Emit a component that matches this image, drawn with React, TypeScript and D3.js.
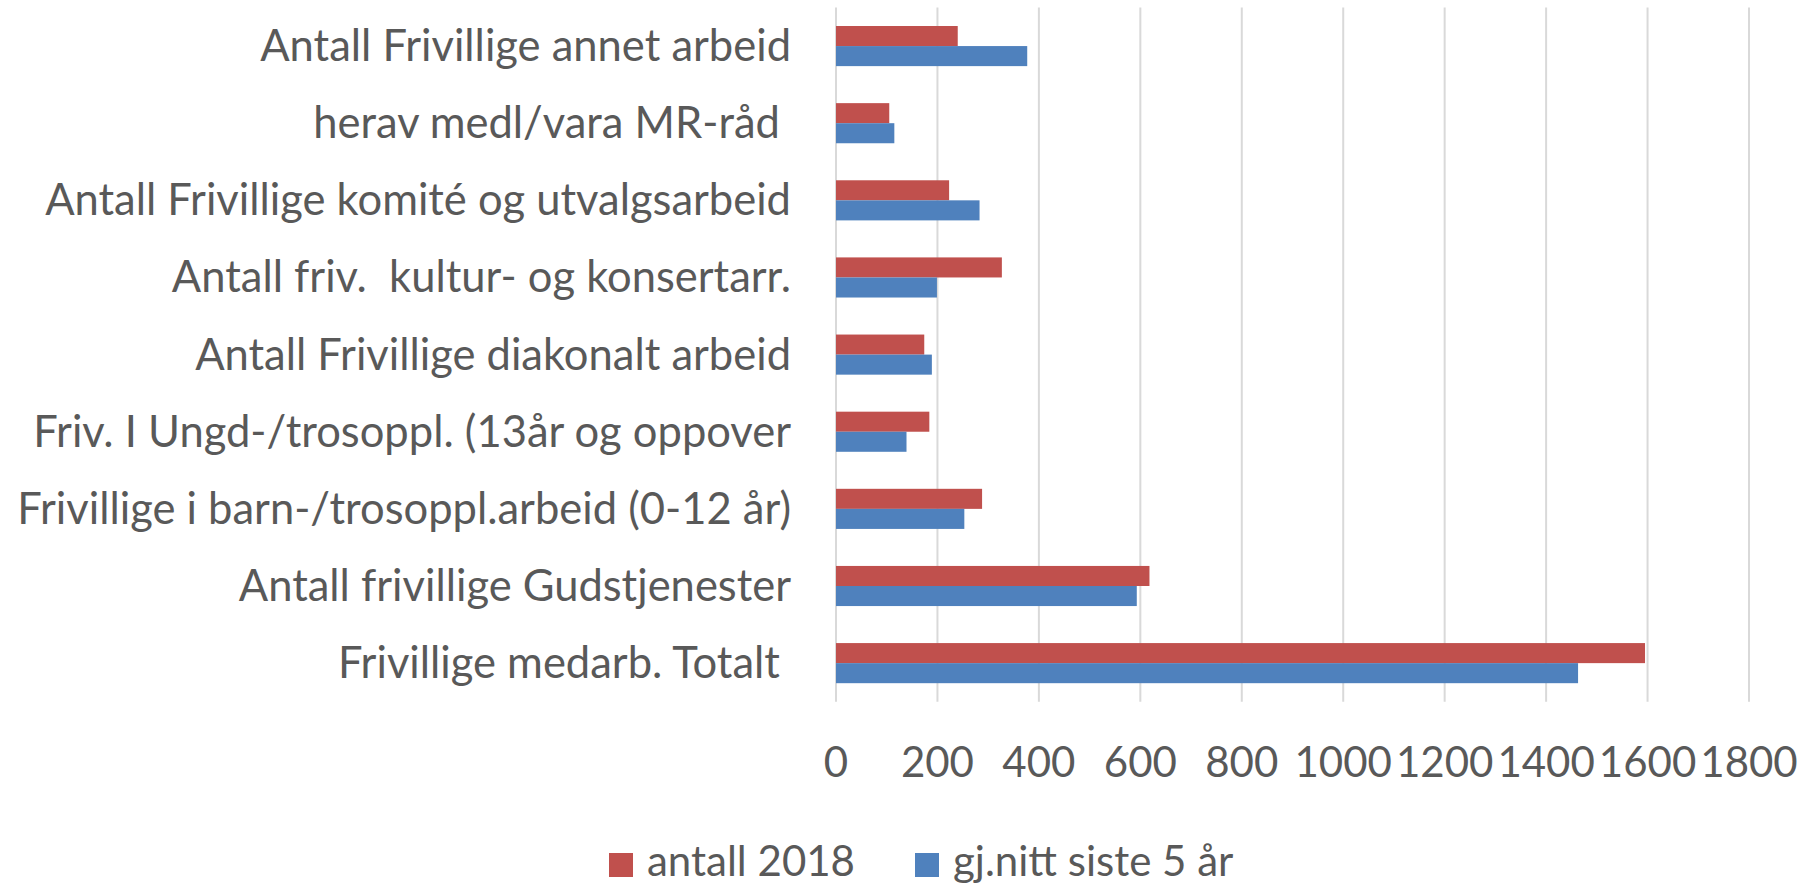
import React from "react";
import * as d3 from "d3";

// categories top -> bottom, as in the picture
const categories = [
  "Antall Frivillige annet arbeid",
  "herav medl/vara MR-råd ",
  "Antall Frivillige komité og utvalgsarbeid",
  "Antall friv.  kultur- og konsertarr.",
  "Antall Frivillige diakonalt arbeid",
  "Friv. I Ungd-/trosoppl. (13år og oppover",
  "Frivillige i barn-/trosoppl.arbeid (0-12 år)",
  "Antall frivillige Gudstjenester",
  "Frivillige medarb. Totalt ",
];
const antall2018 = [240, 105, 223, 327, 174, 184, 288, 618, 1595];
const snitt5ar = [377, 115, 283, 199, 189, 139, 253, 593, 1463];
const seriesNames = ["antall 2018", "gj.nitt siste 5 år"];
const seriesColors = ["#C0504D", "#4F81BD"];
const tickValues = [0, 200, 400, 600, 800, 1000, 1200, 1400, 1600, 1800];

const W = 1806;
const H = 886;
const FONT = "Lato, 'Open Sans', sans-serif";
const FS_CAT = 43.5;
const FS = 42;
const TEXT = "#595959";

export default function App() {
  const x = d3.scaleLinear().domain([0, 1800]).range([836, 1749]);
  const y = d3
    .scaleBand<string>()
    .domain(categories)
    .range([7.5, 701.7])
    .paddingInner(0.48)
    .paddingOuter(0.24);
  const sub = d3
    .scaleBand<string>()
    .domain(seriesNames)
    .range([0, y.bandwidth()]);

  const series = [antall2018, snitt5ar];

  return (
    <svg
      width={W}
      height={H}
      style={{ position: "absolute", left: 0, top: 0, background: "#fff" }}
      fontFamily={FONT}
    >
      <rect width={W} height={H} fill="#fff" />
      {/* gridlines */}
      {tickValues.map(t => (
        <line
          key={t}
          x1={x(t)}
          x2={x(t)}
          y1={7.5}
          y2={701.7}
          stroke="#d9d9d9"
          strokeWidth={2}
        />
      ))}
      {/* bars */}
      {series.map((vals, si) =>
        categories.map((c, i) => (
          <rect
            key={si + "-" + i}
            x={x(0)}
            y={(y(c) ?? 0) + (sub(seriesNames[si]) ?? 0)}
            width={x(vals[i]) - x(0)}
            height={sub.bandwidth()}
            fill={seriesColors[si]}
          />
        ))
      )}
      {/* category labels */}
      {categories.map(c => (
        <text
          key={c}
          x={791}
          y={(y(c) ?? 0) + y.bandwidth() / 2 + 15}
          textAnchor="end"
          fontSize={FS_CAT}
          fill={TEXT}
          style={{ whiteSpace: "pre" }}
        >
          {c}
        </text>
      ))}
      {/* tick labels */}
      {tickValues.map(t => (
        <text
          key={t}
          x={x(t)}
          y={777}
          textAnchor="middle"
          fontSize={FS}
          fill={TEXT}
        >
          {t}
        </text>
      ))}
      {/* legend */}
      {seriesNames.map((s, i) => {
        const lx = i === 0 ? 609 : 915;
        return (
          <g key={s}>
            <rect x={lx} y={853} width={24} height={24} fill={seriesColors[i]} />
            <text x={lx + 38} y={876} fontSize={FS} fill={TEXT}>
              {s}
            </text>
          </g>
        );
      })}
    </svg>
  );
}
